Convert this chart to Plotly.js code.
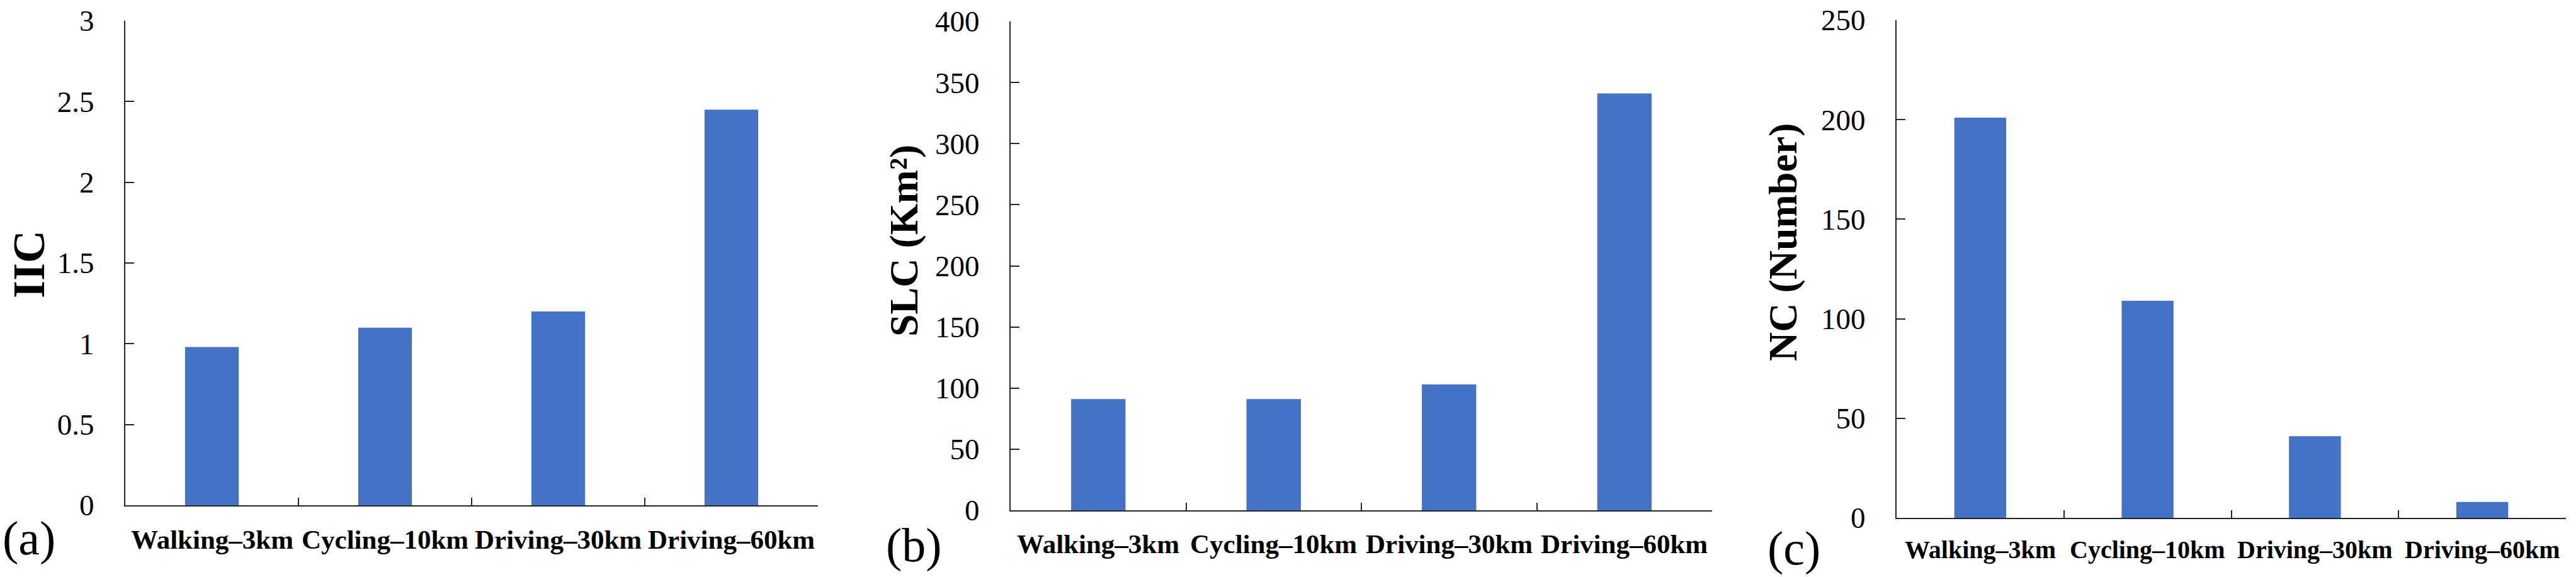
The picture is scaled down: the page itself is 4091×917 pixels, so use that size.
<!DOCTYPE html>
<html>
<head>
<meta charset="utf-8">
<script src="https://cdn.plot.ly/plotly-3.0.1.min.js"></script>
<style>
  html, body { margin: 0; padding: 0; background: #ffffff; }
  #chart { width: 4091px; height: 917px; }
</style>
</head>
<body>
<div id="chart"></div>
<script>
// ---- data ----
const categories = ['Walking–3km', 'Cycling–10km', 'Driving–30km', 'Driving–60km'];
const iicValues = [0.98, 1.10, 1.20, 2.45];
const slcValues = [91, 91, 103, 341];
const ncValues = [201, 109, 41, 8];
const iicTicks = [0, 0.5, 1, 1.5, 2, 2.5, 3];
const slcTicks = [0, 50, 100, 150, 200, 250, 300, 350, 400];
const ncTicks = [0, 50, 100, 150, 200, 250];
const yTitles = ['IIC', 'SLC (Km²)', 'NC (Number)'];
const panelLabels = ['(a)', '(b)', '(c)'];

// ---- style ----
const W = 4091, H = 917;
const barColor = '#4472C4';
const axisColor = '#262626';
const serif = 'Liberation Serif, Times New Roman, serif';

function px(x) { return x / W; }
function py(y) { return (H - y) / H; }

const panels = [
  { x0: 199, x1: 1299, yTop: 33, yBot: 803, range: [0, 3], ticks: iicTicks, vals: iicValues,
    titleX: 46, titleY: 420, titleSize: 72, labX: 46, labY: 855, catY: 857, xFont: 43 },
  { x0: 1605, x1: 2719, yTop: 34, yBot: 811, range: [0, 400], ticks: slcTicks, vals: slcValues,
    titleX: 1436, titleY: 383, titleSize: 64, labX: 1451, labY: 866, catY: 864, xFont: 43 },
  { x0: 3012, x1: 4075, yTop: 32, yBot: 823, range: [0, 250], ticks: ncTicks, vals: ncValues,
    titleX: 2831, titleY: 385, titleSize: 64, labX: 2849, labY: 871, catY: 873, xFont: 40 }
];

const data = [];
const layout = {
  width: W, height: H,
  margin: { l: 0, r: 0, t: 0, b: 0, pad: 0 },
  paper_bgcolor: '#ffffff', plot_bgcolor: '#ffffff',
  showlegend: false,
  bargap: 0.69,
  font: { family: serif, color: '#000000' },
  annotations: []
};

panels.forEach((p, i) => {
  const n = i === 0 ? '' : String(i + 1);
  data.push({
    type: 'bar', x: categories, y: p.vals,
    xaxis: 'x' + n, yaxis: 'y' + n,
    marker: { color: barColor, line: { width: 0 } },
    hoverinfo: 'x+y'
  });
  layout['xaxis' + n] = {
    domain: [px(p.x0), px(p.x1)],
    anchor: 'y' + n,
    type: 'category',
    range: [-0.5, 3.5],
    showline: true, linecolor: axisColor, linewidth: 2,
    ticks: 'inside', tickson: 'boundaries', ticklen: 12, tickwidth: 2, tickcolor: axisColor,
    showgrid: false, zeroline: false,
    showticklabels: false,
    fixedrange: true
  };
  layout['yaxis' + n] = {
    domain: [py(p.yBot), py(p.yTop)],
    anchor: 'x' + n,
    range: p.range,
    tickmode: 'array', tickvals: p.ticks,
    showline: true, linecolor: axisColor, linewidth: 2,
    ticks: 'inside', ticklen: 14, tickwidth: 2, tickcolor: axisColor,
    showgrid: false, zeroline: false,
    tickfont: { family: serif, size: 47, color: '#000000' },
    ticklabelstandoff: 38,
    fixedrange: true
  };
  // category labels, placed through the x axis scale
  categories.forEach(c => {
    layout.annotations.push({
      xref: 'x' + n, yref: 'paper', x: c, y: py(p.catY),
      xanchor: 'center', yanchor: 'middle', showarrow: false,
      text: '<b>' + c + '</b>',
      font: { family: serif, size: p.xFont, color: '#000000' }
    });
  });
  layout.annotations.push({
    xref: 'paper', yref: 'paper', x: px(p.titleX), y: py(p.titleY),
    xanchor: 'center', yanchor: 'middle', textangle: -90, showarrow: false,
    text: '<b>' + yTitles[i] + '</b>',
    font: { family: serif, size: p.titleSize, color: '#000000' }
  });
  layout.annotations.push({
    xref: 'paper', yref: 'paper', x: px(p.labX), y: py(p.labY),
    xanchor: 'center', yanchor: 'middle', showarrow: false,
    text: panelLabels[i],
    font: { family: serif, size: 76, color: '#000000' }
  });
});

Plotly.newPlot('chart', data, layout, { staticPlot: true, displayModeBar: false });
</script>
</body>
</html>
